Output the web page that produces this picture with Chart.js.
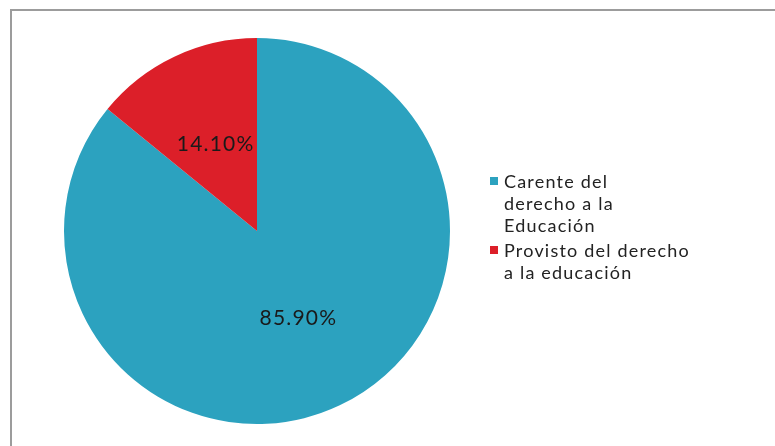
<!DOCTYPE html>
<html>
<head>
<meta charset="utf-8">
<script src="https://cdn.jsdelivr.net/npm/chart.js@4"></script>
<style>
  body { margin: 0; background: #fff; }
  #wrap { position: relative; width: 775px; height: 446px; overflow: hidden; }
  #frame { position: absolute; left: 10px; top: 9px; width: 800px; height: 500px; border-left: 2px solid #9c9c9c; border-top: 2px solid #9c9c9c; }
  canvas { position: absolute; left: 0; top: 0; }
  #legend { position: absolute; left: 490px; top: 170px; font-family: "Lato", sans-serif; font-size: 18px; letter-spacing: 1.2px; color: #222; line-height: 22px; }
  .item { display: flex; align-items: flex-start; margin-bottom: 3px; }
  .box { width: 8px; height: 8px; margin: 7px 6px 0 0; flex: none; }
</style>
</head>
<body>
<div id="wrap">
  <div id="frame"></div>
  <canvas id="pie" width="775" height="446"></canvas>
  <div id="legend"></div>
</div>
<script>
const labels = ["Carente del derecho a la Educación", "Provisto del derecho a la educación"];
const legendLines = [["Carente del", "derecho a la", "Educación"], ["Provisto del derecho", "a la educación"]];
const values = [85.9, 14.1];
const colors = ["#2ca2bf", "#dc1f29"];

const legend = document.querySelector("#legend");
legendLines.forEach((lines, i) => {
  legend.innerHTML += '<div class="item"><span class="box" style="background:' + colors[i] + '"></span><span>' + lines.join("<br>") + "</span></div>";
});

const pctLabels = {
  id: "pctLabels",
  afterDatasetsDraw(chart) {
    const ctx = chart.ctx;
    const meta = chart.getDatasetMeta(0);
    ctx.save();
    ctx.font = '21px "Lato", sans-serif';
    ctx.letterSpacing = "1.2px";
    ctx.fillStyle = "#1a1a1a";
    ctx.textAlign = "center";
    ctx.textBaseline = "middle";
    meta.data.forEach((arc, i) => {
      const mid = (arc.startAngle + arc.endAngle) / 2;
      const r = arc.outerRadius * 0.5;
      ctx.fillText(values[i].toFixed(2) + "%", arc.x + Math.cos(mid) * r, arc.y + Math.sin(mid) * r);
    });
    ctx.restore();
  }
};

new Chart(document.querySelector("#pie"), {
  type: "pie",
  data: {
    labels: labels,
    datasets: [{ data: values, backgroundColor: colors, borderWidth: 0 }]
  },
  options: {
    responsive: false,
    animation: false,
    layout: { padding: { left: 64, right: 325, top: 38, bottom: 22 } },
    plugins: { legend: { display: false }, tooltip: { enabled: false } }
  },
  plugins: [pctLabels]
});
</script>
</body>
</html>
